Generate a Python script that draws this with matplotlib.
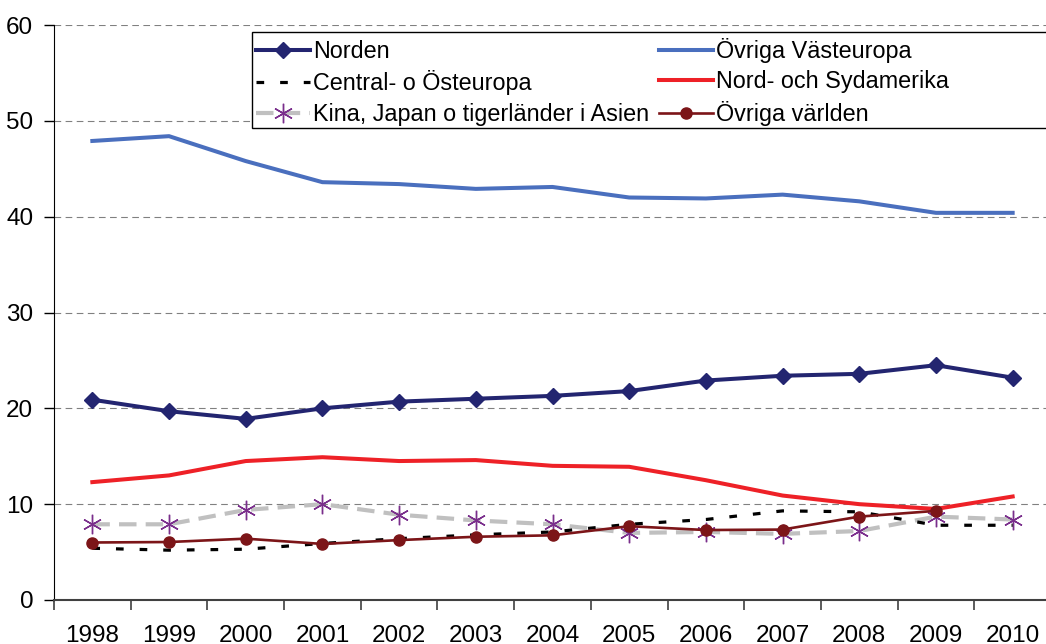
import matplotlib.pyplot as plt
import numpy as np
from matplotlib.patches import Rectangle

years = ["1998", "1999", "2000", "2001", "2002", "2003", "2004",
         "2005", "2006", "2007", "2008", "2009", "2010"]

norden = [20.9, 19.7, 18.9, 20.0, 20.7, 21.0, 21.3, 21.8, 22.9, 23.4, 23.6, 24.5, 23.2]
vasteuropa = [47.9, 48.4, 45.8, 43.6, 43.4, 42.9, 43.1, 42.0, 41.9, 42.3, 41.6, 40.4, 40.4]
osteuropa = [5.4, 5.2, 5.3, 5.9, 6.4, 6.8, 7.1, 7.9, 8.4, 9.3, 9.2, 7.8, 7.8]
amerika = [12.3, 13.0, 14.5, 14.9, 14.5, 14.6, 14.0, 13.9, 12.5, 10.9, 10.0, 9.5, 10.8]
asien = [7.9, 7.9, 9.4, 10.0, 8.9, 8.3, 7.9, 7.0, 7.1, 6.9, 7.2, 8.7, 8.4]
varlden = [6.0, 6.05, 6.4, 5.85, 6.25, 6.6, 6.75, 7.7, 7.3, 7.35, 8.7, 9.3, np.nan]

W, H = 1046, 644
fig = plt.figure(figsize=(W / 100, H / 100), dpi=100)
plt.rcParams["font.family"] = ["Liberation Sans", "DejaVu Sans"]
ax = fig.add_axes([54 / W, (H - 600) / H, 997 / W, 575 / H])

x = np.arange(len(years))

# linjer
ax.plot(x, norden, color="#232570", lw=2.9, marker="D", ms=8,
        label="Norden", zorder=5)
ax.plot(x, osteuropa, color="black", lw=2.3, linestyle=(0, (2.4, 5.0)),
        label="Central- o Östeuropa", zorder=3)
ax.plot(x, asien, color="#c0c0c0", lw=3.0, linestyle=(0, (4.2, 2.2)),
        marker=(6, 2, 0), ms=14, mec="#7a2e8c", mew=1.0,
        label="Kina, Japan o tigerländer i Asien", zorder=2)
ax.plot(x, vasteuropa, color="#4a6fbe", lw=2.9, label="Övriga Västeuropa", zorder=4)
ax.plot(x, amerika, color="#ee2127", lw=2.9, label="Nord- och Sydamerika", zorder=4)
ax.plot(x, varlden, color="#7c1518", lw=1.9, marker="o", ms=8,
        label="Övriga världen", zorder=6)

ax.set_xlim(-0.5, len(years) - 0.5)
ax.set_ylim(0, 60)
ax.set_yticks(range(0, 61, 10))
ax.yaxis.grid(True, color="#808080", lw=0.8, linestyle=(0, (6, 4)))
ax.set_axisbelow(True)

# kategoriaxel: streck mellan åren, etiketter i mitten
ax.set_xticks(np.arange(-0.5, len(years), 1.0))
ax.set_xticklabels([])
ax.set_xticks(x, minor=True)
ax.set_xticklabels(years, minor=True)
ax.tick_params(axis="x", which="major", length=7, width=1.2, color="#404040", direction="out")
ax.tick_params(axis="x", which="minor", length=0, pad=18, labelsize=17.5)
ax.tick_params(axis="y", length=7, width=1.0, direction="out", pad=8, labelsize=17.5)

for side in ["top", "right"]:
    ax.spines[side].set_visible(False)
ax.spines["left"].set_color("black")
ax.spines["bottom"].set_color("#404040")
ax.spines["bottom"].set_linewidth(1.5)

# legend med egen ram
ax.add_patch(Rectangle((252 / W, (H - 128) / H), 800 / W, 96 / H,
                       transform=fig.transFigure, facecolor="white",
                       edgecolor="black", lw=1.0, zorder=10, clip_on=False))
leg = ax.legend(ncol=2, loc="upper left", bbox_to_anchor=(256 / W, (H - 38) / H),
                bbox_transform=fig.transFigure, frameon=False, fontsize=16.8,
                handlelength=2.3, handletextpad=0.15, columnspacing=0.42,
                labelspacing=0.32, borderaxespad=0, borderpad=0.0)
leg.set_zorder(11)

fig.savefig("out.png", dpi=100)
